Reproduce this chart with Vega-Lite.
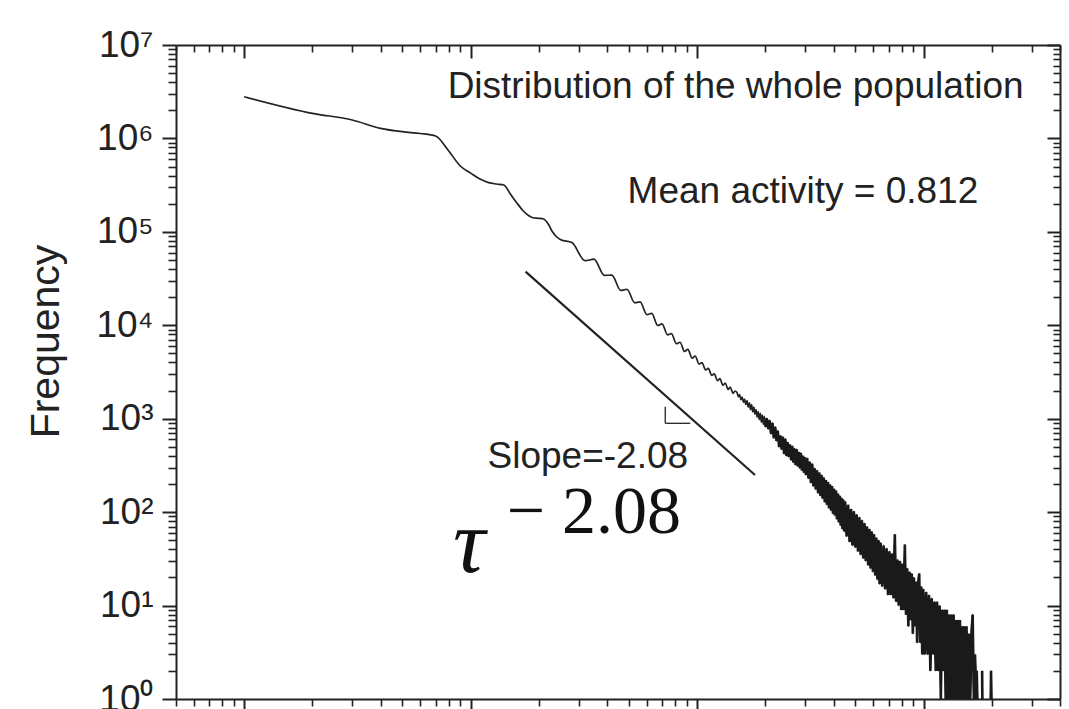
{
  "$schema": "https://vega.github.io/schema/vega-lite/v6.json",
  "width": 884,
  "height": 654,
  "autosize": {"type": "none"},
  "padding": {"left": 176, "top": 45, "right": 9, "bottom": 10},
  "background": "white",
  "config": {"view": {"stroke": null}, "axis": {"grid": false}},
  "datasets": {
    "curve": [
      {"tau":1,"freq":2797000},{"tau":2,"freq":1857000},{"tau":3,"freq":1575000},{"tau":4,"freq":1283000},{"tau":5,"freq":1180000},{"tau":6,"freq":1129000},{"tau":7,"freq":1062000},{"tau":8,"freq":735000},{"tau":9,"freq":507000},{"tau":10,"freq":425500},{"tau":11,"freq":367000},{"tau":12,"freq":337000},{"tau":13,"freq":325000},{"tau":14,"freq":317300},{"tau":15,"freq":252300},{"tau":16,"freq":203700},{"tau":17,"freq":169300},{"tau":18,"freq":149700},{"tau":19,"freq":140700},{"tau":20,"freq":139700},{"tau":21,"freq":137300},{"tau":22,"freq":121300},{"tau":23,"freq":99700},{"tau":24,"freq":88100},{"tau":25,"freq":82400},{"tau":28,"freq":76700},{"tau":32,"freq":49100},{"tau":35,"freq":51000},{"tau":39,"freq":34200},{"tau":42,"freq":34400},{"tau":46,"freq":23600},{"tau":49,"freq":24300},{"tau":53,"freq":17400},{"tau":56,"freq":17800},{"tau":60,"freq":13000},{"tau":63,"freq":13400},{"tau":67,"freq":9950},{"tau":70,"freq":10370},{"tau":74,"freq":7910},{"tau":77,"freq":8130},{"tau":81,"freq":6350},{"tau":84,"freq":6580},{"tau":88,"freq":5240},{"tau":91,"freq":5520},{"tau":95,"freq":4440},{"tau":98,"freq":4690},{"tau":102,"freq":3840},{"tau":105,"freq":3990},{"tau":109,"freq":3320},{"tau":112,"freq":3460},{"tau":116,"freq":2910},{"tau":119,"freq":3030},{"tau":123,"freq":2550},{"tau":126,"freq":2680},{"tau":130,"freq":2280},{"tau":133,"freq":2410},{"tau":137,"freq":2060},{"tau":140,"freq":2180},{"tau":144,"freq":1870},{"tau":147,"freq":1980},
      {"tau":150,"freq":1900},{"tau":152,"freq":1720},{"tau":154,"freq":1810},{"tau":156,"freq":1600},{"tau":158,"freq":1700},{"tau":160,"freq":1500},{"tau":162,"freq":1620},{"tau":164,"freq":1420},{"tau":166,"freq":1560},{"tau":168,"freq":1330},{"tau":170,"freq":1480},{"tau":172,"freq":1250},{"tau":174,"freq":1420},{"tau":176,"freq":1180},{"tau":178,"freq":1330},{"tau":180,"freq":1120},{"tau":182,"freq":1250},{"tau":184,"freq":1040},{"tau":186,"freq":1190},{"tau":188,"freq":980},{"tau":190,"freq":1140},{"tau":192,"freq":920},{"tau":194,"freq":1090},{"tau":196,"freq":870},{"tau":198,"freq":1060},{"tau":200,"freq":820},
      {"tau":203,"freq":1010},{"tau":206,"freq":780},{"tau":209,"freq":960},{"tau":212,"freq":690},{"tau":215,"freq":900},{"tau":218,"freq":620},{"tau":221,"freq":820},{"tau":224,"freq":580},{"tau":227,"freq":740},{"tau":230,"freq":500},{"tau":233,"freq":660},{"tau":236,"freq":470},{"tau":239,"freq":640},{"tau":242,"freq":420},{"tau":245,"freq":610},{"tau":248,"freq":400},{"tau":251,"freq":560},{"tau":254,"freq":390},{"tau":257,"freq":530},{"tau":260,"freq":360},{"tau":263,"freq":510},{"tau":266,"freq":340},{"tau":269,"freq":480},{"tau":272,"freq":320},{"tau":275,"freq":470},{"tau":278,"freq":310},{"tau":281,"freq":440},{"tau":284,"freq":295},{"tau":287,"freq":430},{"tau":290,"freq":280},{"tau":293,"freq":400},{"tau":296,"freq":265},{"tau":299,"freq":385},
      {"tau":302,"freq":250},{"tau":306,"freq":380},{"tau":310,"freq":230},{"tau":314,"freq":345},{"tau":318,"freq":205},{"tau":322,"freq":330},{"tau":326,"freq":190},{"tau":330,"freq":295},{"tau":334,"freq":175},{"tau":338,"freq":280},{"tau":342,"freq":160},{"tau":346,"freq":265},{"tau":350,"freq":150},{"tau":354,"freq":250},{"tau":358,"freq":140},{"tau":362,"freq":235},{"tau":366,"freq":128},{"tau":370,"freq":220},{"tau":374,"freq":120},{"tau":378,"freq":210},{"tau":382,"freq":110},{"tau":386,"freq":198},{"tau":390,"freq":104},{"tau":394,"freq":190},{"tau":398,"freq":96},{"tau":402,"freq":178},{"tau":406,"freq":92},{"tau":410,"freq":170},{"tau":414,"freq":84},{"tau":418,"freq":158},{"tau":422,"freq":78},{"tau":426,"freq":150},{"tau":430,"freq":72},{"tau":434,"freq":142},{"tau":438,"freq":66},{"tau":442,"freq":136},{"tau":446,"freq":62},{"tau":450,"freq":130},
      {"tau":457,"freq":55},{"tau":464,"freq":120},{"tau":471,"freq":48},{"tau":478,"freq":108},{"tau":485,"freq":44},{"tau":492,"freq":102},{"tau":499,"freq":42},{"tau":506,"freq":94},{"tau":513,"freq":38},{"tau":520,"freq":88},{"tau":527,"freq":35},{"tau":534,"freq":82},{"tau":541,"freq":32},{"tau":548,"freq":76},{"tau":555,"freq":30},{"tau":562,"freq":70},{"tau":569,"freq":27},{"tau":576,"freq":66},{"tau":583,"freq":25},{"tau":590,"freq":62},{"tau":597,"freq":23},{"tau":604,"freq":58},{"tau":611,"freq":21},{"tau":618,"freq":53},{"tau":625,"freq":19},{"tau":632,"freq":50},{"tau":639,"freq":17},{"tau":646,"freq":47},
      {"tau":656,"freq":16},{"tau":666,"freq":44},{"tau":676,"freq":15},{"tau":686,"freq":41},{"tau":696,"freq":13},{"tau":706,"freq":38},{"tau":716,"freq":13},{"tau":726,"freq":36},{"tau":736,"freq":12},{"tau":746,"freq":58},{"tau":756,"freq":11},{"tau":766,"freq":31},{"tau":776,"freq":10},{"tau":786,"freq":30},{"tau":796,"freq":9},{"tau":806,"freq":28},{"tau":816,"freq":9},{"tau":826,"freq":45},{"tau":836,"freq":8},{"tau":846,"freq":25},{"tau":856,"freq":6},{"tau":866,"freq":23},{"tau":876,"freq":7},{"tau":886,"freq":22},{"tau":896,"freq":5},{"tau":906,"freq":20},{"tau":916,"freq":6},{"tau":926,"freq":18},{"tau":936,"freq":4},{"tau":946,"freq":17},{"tau":956,"freq":22},{"tau":966,"freq":4},{"tau":976,"freq":16},{"tau":986,"freq":3},{"tau":996,"freq":15},
      {"tau":1011,"freq":3},{"tau":1026,"freq":14},{"tau":1041,"freq":3},{"tau":1056,"freq":13},{"tau":1071,"freq":2},{"tau":1086,"freq":12},{"tau":1101,"freq":3},{"tau":1116,"freq":11},{"tau":1131,"freq":2},{"tau":1146,"freq":11},{"tau":1161,"freq":2},{"tau":1176,"freq":10},{"tau":1191,"freq":1},{"tau":1206,"freq":9},{"tau":1221,"freq":2},{"tau":1236,"freq":9},{"tau":1251,"freq":1},{"tau":1266,"freq":9},{"tau":1281,"freq":1},{"tau":1296,"freq":8},{"tau":1311,"freq":1},{"tau":1326,"freq":8},{"tau":1341,"freq":1},{"tau":1356,"freq":8},{"tau":1371,"freq":1},{"tau":1386,"freq":7},{"tau":1401,"freq":1},{"tau":1416,"freq":7},{"tau":1431,"freq":1},{"tau":1446,"freq":7},{"tau":1461,"freq":1},{"tau":1476,"freq":6},{"tau":1491,"freq":1},
      {"tau":1506,"freq":6},{"tau":1526,"freq":1},{"tau":1546,"freq":6},{"tau":1566,"freq":1},{"tau":1586,"freq":5},{"tau":1606,"freq":1},{"tau":1626,"freq":5},{"tau":1646,"freq":8},{"tau":1666,"freq":1},{"tau":1686,"freq":3},{"tau":1706,"freq":1},{"tau":1716,"freq":2},{"tau":1726,"freq":1},
      {"tau":1812,"freq":2,"seg":"b"},{"tau":1816,"freq":1,"seg":"b"},
      {"tau":1978,"freq":1,"seg":"c"},{"tau":1984,"freq":2,"seg":"c"},{"tau":1992,"freq":1,"seg":"c"}
    ],
    "fit": [{"tau":17.47,"freq":37460},{"tau":180.1,"freq":249.8}],
    "angle": [
      {"tau":72.3,"tau2":72.3,"freq":1345,"freq2":893},
      {"tau":72.3,"tau2":93.2,"freq":893,"freq2":893}
    ],
    "notes": [
      {"tau":147.8,"freq":2709000,"label":"Distribution of the whole population"},
      {"tau":293,"freq":203700,"label":"Mean activity = 0.812"},
      {"tau":32.9,"freq":296.9,"label":"Slope=-2.08"}
    ],
    "taunote": [{"tau":9.85,"freq":22.9,"label":"τ"}],
    "expnote": [{"tau":35.0,"freq":59.8,"label":"− 2.08"}]
  },
  "layer": [
    {
      "data": {"name": "curve"},
      "mark": {"type": "line", "color": "#222", "strokeWidth": 1.7, "clip": true, "interpolate": "monotone"},
      "encoding": {
        "x": {"field": "tau", "type": "quantitative", "scale": {"type": "log", "domain": [0.5, 4000], "nice": false},
          "axis": {"orient": "bottom", "values": [0.5,0.6,0.7,0.8,0.9,1,2,3,4,5,6,7,8,9,10,20,30,40,50,60,70,80,90,100,200,300,400,500,600,700,800,900,1000,2000,3000,4000],
            "labels": false, "title": null, "grid": false, "domainColor": "#222", "domainWidth": 2, "tickColor": "#222",
            "tickWidth": {"condition": {"test": "abs(log(datum.value)/LN10-round(log(datum.value)/LN10))<0.001", "value": 2}, "value": 1.6},
            "tickSize": {"condition": {"test": "abs(log(datum.value)/LN10-round(log(datum.value)/LN10))<0.001", "value": 12}, "value": 7}}},
        "y": {"field": "freq", "type": "quantitative", "scale": {"type": "log", "domain": [1, 10000000], "nice": false},
          "axis": {"orient": "left", "values": [1,2,3,4,5,6,7,8,9,10,20,30,40,50,60,70,80,90,100,200,300,400,500,600,700,800,900,1000,2000,3000,4000,5000,6000,7000,8000,9000,10000,20000,30000,40000,50000,60000,70000,80000,90000,100000,200000,300000,400000,500000,600000,700000,800000,900000,1000000,2000000,3000000,4000000,5000000,6000000,7000000,8000000,9000000,10000000],
            "labelExpr": "abs(log(datum.value)/LN10-round(log(datum.value)/LN10))<0.001 ? '10'+substring('⁰¹²³⁴⁵⁶⁷⁸⁹',round(log(datum.value)/LN10),round(log(datum.value)/LN10)+1) : ''",
            "labelFont": "Liberation Sans", "labelFontSize": 37, "labelColor": "#222", "labelPadding": 9,
            "labelOverlap": false, "labelFlush": false, "labelBound": false, "labelBaseline": "middle",
            "title": "Frequency", "titleFont": "Liberation Sans", "titleFontSize": 41, "titleFontWeight": "normal", "titleColor": "#222", "titlePadding": 28, "titleY": 296,
            "grid": false, "domainColor": "#222", "domainWidth": 2, "tickColor": "#222",
            "tickWidth": {"condition": {"test": "abs(log(datum.value)/LN10-round(log(datum.value)/LN10))<0.001", "value": 2}, "value": 1.6},
            "tickSize": {"condition": {"test": "abs(log(datum.value)/LN10-round(log(datum.value)/LN10))<0.001", "value": 14}, "value": 8}}},
        "detail": {"field": "seg", "type": "nominal"}
      }
    },
    {
      "data": {"name": "curve"},
      "transform": [{"filter": "datum.tau >= 200"}],
      "mark": {"type": "line", "color": "#1a1a1a", "strokeWidth": 2.6, "clip": true},
      "encoding": {
        "x": {"field": "tau", "type": "quantitative", "scale": {"type": "log", "domain": [0.5, 4000], "nice": false}, "axis": null},
        "y": {"field": "freq", "type": "quantitative", "scale": {"type": "log", "domain": [1, 10000000], "nice": false}, "axis": null},
        "detail": {"field": "seg", "type": "nominal"}
      }
    },
    {
      "data": {"name": "fit"},
      "mark": {"type": "line", "color": "#222", "strokeWidth": 2.2},
      "encoding": {
        "x": {"field": "tau", "type": "quantitative", "scale": {"type": "log", "domain": [0.5, 4000], "nice": false},
          "axis": {"orient": "top", "values": [0.5,0.6,0.7,0.8,0.9,1,2,3,4,5,6,7,8,9,10,20,30,40,50,60,70,80,90,100,200,300,400,500,600,700,800,900,1000,2000,3000,4000],
            "labels": false, "title": null, "grid": false, "domainColor": "#222", "domainWidth": 2, "tickColor": "#222",
            "tickWidth": {"condition": {"test": "abs(log(datum.value)/LN10-round(log(datum.value)/LN10))<0.001", "value": 2}, "value": 1.6},
            "tickSize": {"condition": {"test": "abs(log(datum.value)/LN10-round(log(datum.value)/LN10))<0.001", "value": -13}, "value": -7}}},
        "y": {"field": "freq", "type": "quantitative", "scale": {"type": "log", "domain": [1, 10000000], "nice": false},
          "axis": {"orient": "right", "values": [1,2,3,4,5,6,7,8,9,10,20,30,40,50,60,70,80,90,100,200,300,400,500,600,700,800,900,1000,2000,3000,4000,5000,6000,7000,8000,9000,10000,20000,30000,40000,50000,60000,70000,80000,90000,100000,200000,300000,400000,500000,600000,700000,800000,900000,1000000,2000000,3000000,4000000,5000000,6000000,7000000,8000000,9000000,10000000],
            "labels": false, "title": null, "grid": false, "domainColor": "#222", "domainWidth": 2, "tickColor": "#222",
            "tickWidth": {"condition": {"test": "abs(log(datum.value)/LN10-round(log(datum.value)/LN10))<0.001", "value": 2}, "value": 1.6},
            "tickSize": {"condition": {"test": "abs(log(datum.value)/LN10-round(log(datum.value)/LN10))<0.001", "value": -13}, "value": -7}}}
      }
    },
    {
      "data": {"name": "angle"},
      "mark": {"type": "rule", "color": "#222", "strokeWidth": 1.3},
      "encoding": {
        "x": {"field": "tau", "type": "quantitative", "scale": {"type": "log", "domain": [0.5, 4000], "nice": false}, "axis": null},
        "x2": {"field": "tau2"},
        "y": {"field": "freq", "type": "quantitative", "scale": {"type": "log", "domain": [1, 10000000], "nice": false}, "axis": null},
        "y2": {"field": "freq2"}
      }
    },
    {
      "data": {"name": "notes"},
      "mark": {"type": "text", "font": "Liberation Sans", "fontSize": 37, "align": "center", "baseline": "alphabetic", "color": "#222"},
      "encoding": {
        "x": {"field": "tau", "type": "quantitative", "scale": {"type": "log", "domain": [0.5, 4000], "nice": false}, "axis": null},
        "y": {"field": "freq", "type": "quantitative", "scale": {"type": "log", "domain": [1, 10000000], "nice": false}, "axis": null},
        "text": {"field": "label"}
      }
    },
    {
      "data": {"name": "taunote"},
      "mark": {"type": "text", "font": "Liberation Serif", "fontStyle": "italic", "fontSize": 90, "align": "center", "baseline": "alphabetic", "color": "#111"},
      "encoding": {
        "x": {"field": "tau", "type": "quantitative", "scale": {"type": "log", "domain": [0.5, 4000], "nice": false}, "axis": null},
        "y": {"field": "freq", "type": "quantitative", "scale": {"type": "log", "domain": [1, 10000000], "nice": false}, "axis": null},
        "text": {"field": "label"}
      }
    },
    {
      "data": {"name": "expnote"},
      "mark": {"type": "text", "font": "Liberation Serif", "fontSize": 68, "align": "center", "baseline": "alphabetic", "color": "#111"},
      "encoding": {
        "x": {"field": "tau", "type": "quantitative", "scale": {"type": "log", "domain": [0.5, 4000], "nice": false}, "axis": null},
        "y": {"field": "freq", "type": "quantitative", "scale": {"type": "log", "domain": [1, 10000000], "nice": false}, "axis": null},
        "text": {"field": "label"}
      }
    }
  ],
  "resolve": {"axis": {"x": "independent", "y": "independent"}}
}
